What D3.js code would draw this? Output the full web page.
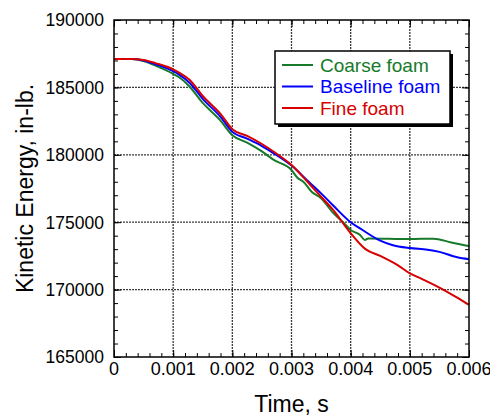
<!DOCTYPE html>
<html><head><meta charset="utf-8">
<script src="https://cdn.jsdelivr.net/npm/d3@7"></script>
<style>body{margin:0;background:#fff}svg{display:block}text{font-family:"Liberation Sans",Arial,sans-serif}</style>
</head><body><svg id="c" width="490" height="418"></svg>
<script>
const seriesNames = ["Coarse foam", "Baseline foam", "Fine foam"];
const seriesColors = ["#167a2a", "#0000ff", "#d80000"];
const xTicks = [0, 0.001, 0.002, 0.003, 0.004, 0.005, 0.006];
const xTickLabels = ["0", "0.001", "0.002", "0.003", "0.004", "0.005", "0.006"];
const yTicks = [165000, 170000, 175000, 180000, 185000, 190000];

const coarseT = [0, 0.0003, 0.0005, 0.0007, 0.001, 0.0011, 0.00128, 0.0015, 0.0018, 0.002, 0.00225, 0.0025, 0.0027, 0.003, 0.0031, 0.0032, 0.00334, 0.0035, 0.0037, 0.0039, 0.004, 0.00416, 0.00424, 0.0043, 0.005, 0.0054, 0.0057, 0.006];
const coarseE = [187100, 187100, 186950, 186610, 186000, 185750, 185050, 183850, 182540, 181450, 180900, 180250, 179620, 178870, 178300, 178000, 177260, 176770, 175710, 174870, 174420, 174050, 173680, 173800, 173750, 173780, 173500, 173230];

const baseT = [0, 0.0003, 0.0005, 0.0007, 0.001, 0.0011, 0.00128, 0.0015, 0.0018, 0.002, 0.00225, 0.0025, 0.0027, 0.003, 0.0033, 0.0035, 0.0037, 0.004, 0.0042, 0.0045, 0.0047, 0.005, 0.0053, 0.0055, 0.0058, 0.006];
const baseE = [187100, 187100, 187000, 186720, 186200, 185950, 185330, 184150, 182820, 181700, 181200, 180650, 180110, 179200, 177960, 177140, 176260, 175000, 174420, 173630, 173310, 173080, 172960, 172800, 172400, 172260];

const fineT = [0, 0.0003, 0.0005, 0.0007, 0.001, 0.0011, 0.00128, 0.0015, 0.0018, 0.002, 0.00225, 0.0025, 0.0027, 0.003, 0.0033, 0.0035, 0.0037, 0.004, 0.00425, 0.0045, 0.0048, 0.005, 0.0052, 0.0055, 0.0058, 0.006];
const fineE = [187100, 187100, 187030, 186800, 186340, 186090, 185550, 184360, 183040, 181900, 181400, 180800, 180230, 179240, 177850, 176890, 175930, 174180, 173000, 172500, 171800, 171200, 170800, 170150, 169400, 168860];

const seriesT = [coarseT, baseT, fineT];
const seriesE = [coarseE, baseE, fineE];

const L = 114, R = 469, T = 20, B = 357;
const svg = d3.select("#c");
const x = d3.scaleLinear().domain([0, 0.006]).range([L, R]);
const y = d3.scaleLinear().domain([165000, 190000]).range([B, T]);

// grid
const g = svg.append("g");
g.selectAll(".gx").data(xTicks.slice(1, -1)).join("line")
  .attr("x1", d => x(d)).attr("x2", d => x(d)).attr("y1", T).attr("y2", B)
  .attr("stroke", "#3a3a3a").attr("stroke-width", 1.3).attr("stroke-dasharray", "2,1");
g.selectAll(".gy").data(yTicks.slice(1, -1)).join("line")
  .attr("y1", d => y(d)).attr("y2", d => y(d)).attr("x1", L).attr("x2", R)
  .attr("stroke", "#3a3a3a").attr("stroke-width", 1.3).attr("stroke-dasharray", "2,1");

// axes with inward ticks
const xMinor = d3.range(0, 0.0060001, 0.0002);
const yMinor = d3.range(165000, 190001, 1000);
function addAxis(axis, tr) {
  const a = svg.append("g").attr("transform", tr).call(axis);
  a.select(".domain").remove();
  a.selectAll("line").attr("stroke", "#000").attr("stroke-width", 1);
  return a;
}
addAxis(d3.axisBottom(x).tickValues(xMinor).tickSize(-4).tickFormat(""), `translate(0,${B})`);
addAxis(d3.axisTop(x).tickValues(xMinor).tickSize(-4).tickFormat(""), `translate(0,${T})`);
addAxis(d3.axisLeft(y).tickValues(yMinor).tickSize(-4).tickFormat(""), `translate(${L},0)`);
addAxis(d3.axisRight(y).tickValues(yMinor).tickSize(-4).tickFormat(""), `translate(${R},0)`);
addAxis(d3.axisBottom(x).tickValues(xTicks).tickSize(-7).tickFormat(""), `translate(0,${B})`);
addAxis(d3.axisTop(x).tickValues(xTicks).tickSize(-7).tickFormat(""), `translate(0,${T})`);
addAxis(d3.axisLeft(y).tickValues(yTicks).tickSize(-7).tickFormat(""), `translate(${L},0)`);
addAxis(d3.axisRight(y).tickValues(yTicks).tickSize(-7).tickFormat(""), `translate(${R},0)`);

// tick labels
svg.selectAll(".xl").data(xTicks).join("text")
  .attr("x", d => x(d)).attr("y", 375).attr("text-anchor", "middle")
  .attr("font-size", 18).text((d, i) => xTickLabels[i]);
svg.selectAll(".yl").data(yTicks).join("text")
  .attr("x", 104).attr("y", d => y(d) + 6.3).attr("text-anchor", "end")
  .attr("font-size", 17.5).text(d => d3.format("d")(d));

// lines
const line = d3.line().x(d => x(d[0])).y(d => y(d[1])).curve(d3.curveMonotoneX);
const plot = svg.append("g");
seriesT.forEach((ts, i) => {
  const pts = ts.map((t, j) => [t, seriesE[i][j]]);
  plot.append("path").datum(pts).attr("d", line).attr("fill", "none")
    .attr("stroke", seriesColors[i]).attr("stroke-width", 2).attr("stroke-linejoin", "round");
});

// frame
svg.append("rect").attr("x", L).attr("y", T).attr("width", R - L).attr("height", B - T)
  .attr("fill", "none").attr("stroke", "#000").attr("stroke-width", 1.5);

// legend
const lg = svg.append("g");
lg.append("rect").attr("x", 278).attr("y", 54).attr("width", 175).attr("height", 73).attr("fill", "#000");
lg.append("rect").attr("x", 275).attr("y", 51).attr("width", 175).attr("height", 73)
  .attr("fill", "#fff").attr("stroke", "#000").attr("stroke-width", 1.5);
seriesNames.forEach((n, i) => {
  const yy = 65 + i * 21.5;
  lg.append("line").attr("x1", 282).attr("x2", 313).attr("y1", yy).attr("y2", yy)
    .attr("stroke", seriesColors[i]).attr("stroke-width", 2);
  lg.append("text").attr("x", 320).attr("y", yy + 6.5).attr("font-size", 19)
    .attr("fill", seriesColors[i]).text(n);
});

// titles
svg.append("text").attr("x", (L + R) / 2).attr("y", 412).attr("text-anchor", "middle")
  .attr("font-size", 23).text("Time, s");
svg.append("text").attr("transform", `translate(33,${(T + B) / 2}) rotate(-90)`)
  .attr("text-anchor", "middle").attr("font-size", 23).text("Kinetic Energy, in-lb.");
</script></body></html>
